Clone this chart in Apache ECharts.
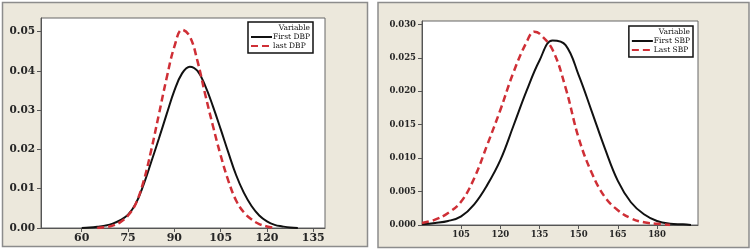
<!DOCTYPE html>
<html><head><meta charset="utf-8">
<script src="https://cdn.jsdelivr.net/npm/echarts@6/dist/echarts.min.js"></script>
<style>html,body{margin:0;padding:0;background:#fff}#c{width:752px;height:251px}</style>
</head><body><div id="c"></div>
<script>
// Diastolic BP (left panel)
const dbpX = [60,62.5,65,67.5,70,72.5,75,77.5,80,82.5,85,87.5,90,92.5,95,97.5,100,102.5,105,107.5,110,112.5,115,117.5,120,122.5,125,127.5,130];
const firstDBP = [0,0.0001,0.0003,0.0006,0.0011,0.0020,0.0034,0.0062,0.0110,0.0168,0.0228,0.0290,0.0350,0.0394,0.0411,0.0400,0.0362,0.0310,0.0252,0.0192,0.0135,0.0090,0.0056,0.0032,0.0017,0.0008,0.0004,0.0001,0];
const lastDBPX = [65,67.5,70,72.5,75,77.5,80,82.5,85,87.5,90,92.5,95,97.5,100,102.5,105,107.5,110,112.5,115,117.5,120,122.5];
const lastDBP = [0,0.0002,0.0006,0.0015,0.0032,0.0062,0.0118,0.0198,0.0290,0.0382,0.0462,0.0505,0.0488,0.0425,0.0340,0.0260,0.0185,0.0120,0.0070,0.0040,0.0022,0.0010,0.0004,0];
// Systolic BP (right panel)
const sbpX = [90,95,100,105,110,115,120,125,130,135,140,145,150,155,160,165,170,175,180,185,190,193];
const firstSBP = [0.0001,0.0003,0.0006,0.0013,0.0031,0.0060,0.0097,0.0148,0.0200,0.0246,0.0276,0.0269,0.0224,0.0170,0.0115,0.0066,0.0034,0.0016,0.0006,0.0002,0.0001,0];
const lastSBPX = [90,95,100,105,110,115,120,125,130,133,135,140,145,150,155,160,165,170,175,180,185];
const lastSBP = [0.0003,0.0008,0.0018,0.0035,0.0070,0.0120,0.0172,0.0228,0.0273,0.0289,0.0286,0.0262,0.0205,0.0130,0.0078,0.0042,0.0022,0.0010,0.0004,0.0002,0];
// tick labels
const dbpTicks = [60,75,90,105,120,135];
const sbpTicks = [105,120,135,150,165,180];
const dbpYTicks = [0,0.01,0.02,0.03,0.04,0.05];
const sbpYTicks = [0,0.005,0.01,0.015,0.02,0.025,0.03];
const names = ['First DBP','last DBP','First SBP','Last SBP'];

const pairs = (xs, ys) => xs.map((x,i)=>[x, ys[i]]);
const serif = 'DejaVu Serif';
const beige = '#ece8dc';

function xAx(gi, min, max, ticks, fs){
  return {type:'value', gridIndex:gi, min, max,
    axisLine:{show:true, onZero:false, lineStyle:{color:'#555', width:1}},
    axisTick:{show:true, customValues:ticks, length:4, lineStyle:{color:'#555'}},
    axisLabel:{customValues:ticks, fontFamily:serif, fontWeight:'bold', fontSize:fs, color:'#262626', margin:5},
    splitLine:{show:false}};
}
function yAx(gi, max, ticks, fs, dec){
  return {type:'value', gridIndex:gi, min:0, max,
    axisLine:{show:true, lineStyle:{color:'#555', width:1}},
    axisTick:{show:true, customValues:ticks, length:4, lineStyle:{color:'#555'}},
    axisLabel:{customValues:ticks, fontFamily:serif, fontWeight:'bold', fontSize:fs, color:'#262626', margin:6,
      formatter:v=>v.toFixed(dec)},
    splitLine:{show:false}};
}
const solid = {color:'#111', width:2};
const dashed = {color:'#cf2f36', width:2.5, type:[7,4]};
function ser(name, xi, data, ls){
  return {name, type:'line', xAxisIndex:xi, yAxisIndex:xi, data, smooth:0.4,
    symbol:'none', lineStyle:ls, itemStyle:{color:ls.color}, z:3};
}
function leg(data, right, top){
  return {data, orient:'vertical', right, top, itemWidth:21, itemHeight:8, itemGap:1,
    padding:[11,3,3,2], borderColor:'#111', borderWidth:1.5, backgroundColor:'#fff',
    itemStyle:{color:'rgba(0,0,0,0)', borderWidth:0, opacity:0},
    textStyle:{fontFamily:serif, fontSize:7.5, color:'#111', padding:[0,0,0,-4]}, selectedMode:false};
}

const chart = echarts.init(document.getElementById('c'), null, {renderer:'canvas'});
chart.setOption({
  backgroundColor:'#fff',
  animation:false,
  graphic:[
    {type:'rect', shape:{x:2.5,y:2.5,width:365,height:244}, style:{fill:beige, stroke:'#8c8c8c', lineWidth:1.5}, z:-10},
    {type:'rect', shape:{x:378,y:2.5,width:371,height:245}, style:{fill:beige, stroke:'#8c8c8c', lineWidth:1.5}, z:-10},
    {type:'text', right:442, top:24, style:{text:'Variable', fontFamily:serif, fontSize:7.5, fill:'#111'}, z:100},
    {type:'text', right:62, top:28, style:{text:'Variable', fontFamily:serif, fontSize:7.5, fill:'#111'}, z:100}
  ],
  grid:[
    {left:41, top:18, width:284, height:210, show:true, backgroundColor:'#fff', borderColor:'#666', borderWidth:1},
    {left:422, top:21, width:276, height:204, show:true, backgroundColor:'#fff', borderColor:'#666', borderWidth:1}
  ],
  xAxis:[xAx(0, 46.8, 138.8, dbpTicks, 11), xAx(1, 90, 195.7, sbpTicks, 8.5)],
  yAxis:[yAx(0, 0.0535, dbpYTicks, 10.5, 2), yAx(1, 0.0305, sbpYTicks, 8.5, 3)],
  legend:[leg([names[0],names[1]], 439, 22), leg([names[2],names[3]], 59, 26)],
  series:[
    ser(names[0], 0, pairs(dbpX, firstDBP), solid),
    ser(names[1], 0, pairs(lastDBPX, lastDBP), dashed),
    ser(names[2], 1, pairs(sbpX, firstSBP), solid),
    ser(names[3], 1, pairs(lastSBPX, lastSBP), dashed)
  ]
});
</script></body></html>
